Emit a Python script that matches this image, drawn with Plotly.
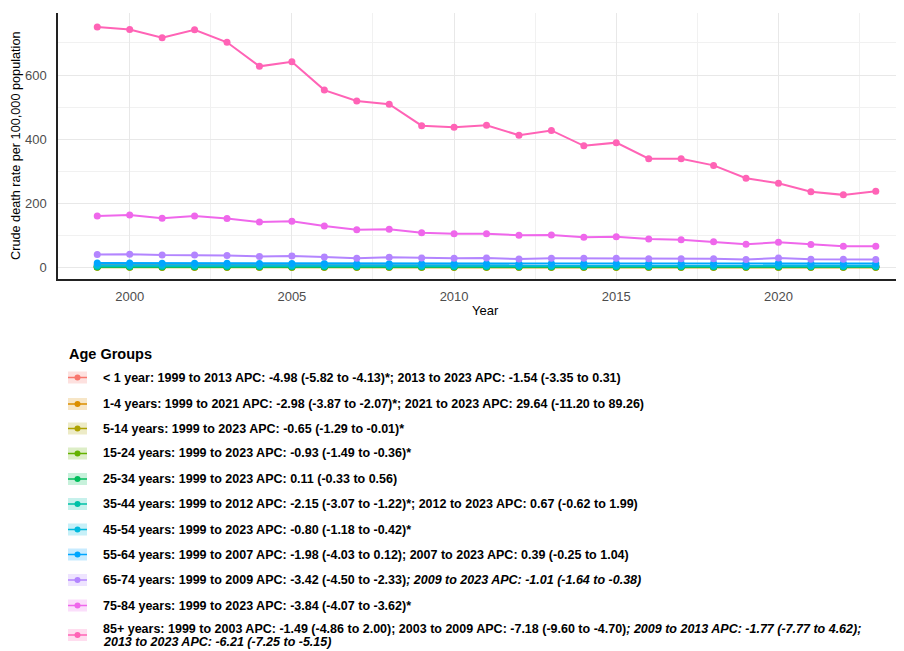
import plotly.graph_objects as go

years = list(range(1999, 2024))

age_groups = ["< 1 year", "1-4 years", "5-14 years", "15-24 years", "25-34 years",
              "35-44 years", "45-54 years", "55-64 years", "65-74 years",
              "75-84 years", "85+ years"]

colors = ["#F8766D", "#DB8E00", "#AEA200", "#64B200", "#00BD5C", "#00C1A7",
          "#00BADE", "#00A6FF", "#B385FF", "#EF67EB", "#FF63B6"]

rate_lt1 = [9.0, 8.5, 8.0, 7.6, 7.2, 6.9, 6.5, 6.2, 5.9, 5.6, 5.3, 5.1, 4.8, 4.6, 4.4,
            4.3, 4.3, 4.2, 4.1, 4.0, 4.0, 3.9, 3.8, 3.8, 3.7]
rate_1_4 = [0.6, 0.6, 0.5, 0.5, 0.5, 0.5, 0.5, 0.4, 0.4, 0.4, 0.4, 0.4, 0.4, 0.3, 0.3,
            0.3, 0.3, 0.3, 0.3, 0.3, 0.3, 0.3, 0.3, 0.4, 0.5]
rate_5_14 = [0.3, 0.3, 0.3, 0.3, 0.3, 0.3, 0.3, 0.3, 0.3, 0.3, 0.3, 0.3, 0.3, 0.3, 0.3,
             0.3, 0.3, 0.3, 0.3, 0.2, 0.2, 0.2, 0.2, 0.2, 0.3]
rate_15_24 = [0.9, 0.9, 0.9, 0.9, 0.8, 0.8, 0.8, 0.8, 0.8, 0.8, 0.8, 0.8, 0.8, 0.7, 0.7,
              0.7, 0.7, 0.7, 0.7, 0.7, 0.7, 0.7, 0.7, 0.7, 0.7]
rate_25_34 = [1.5, 1.5, 1.5, 1.5, 1.5, 1.5, 1.5, 1.5, 1.5, 1.5, 1.5, 1.5, 1.5, 1.5, 1.5,
              1.5, 1.5, 1.6, 1.6, 1.5, 1.6, 1.6, 1.6, 1.6, 1.5]
rate_35_44 = [3.6, 3.5, 3.4, 3.3, 3.2, 3.1, 3.0, 2.9, 2.8, 2.8, 2.7, 2.7, 2.6, 2.6, 2.6,
              2.6, 2.7, 2.7, 2.8, 2.8, 2.8, 2.9, 2.8, 2.8, 2.8]
rate_45_54 = [6.5, 6.4, 6.3, 6.3, 6.2, 6.1, 6.0, 6.0, 5.9, 5.8, 5.8, 5.7, 5.7, 5.6, 5.6,
              5.5, 5.5, 5.4, 5.4, 5.3, 5.3, 5.5, 5.2, 5.2, 5.1]
rate_55_64 = [13.5, 13.2, 12.8, 12.6, 12.3, 12.0, 11.8, 11.5, 11.2, 11.3, 11.2, 11.3, 11.4,
              11.3, 11.5, 11.6, 11.6, 11.7, 11.8, 11.8, 11.7, 13.5, 12.2, 11.9, 11.8]
rate_65_74 = [40, 41, 38, 38, 37, 34, 35, 32, 28, 31, 29, 28, 29, 26, 28, 28, 28, 27, 27,
              27, 24, 29, 25, 25, 24]
rate_75_84 = [160, 163, 153, 160, 152, 141, 144, 129, 117, 119, 108, 105, 105, 100, 101,
              94, 95, 88, 86, 80, 72, 78, 71, 66, 66]
rate_85p = [750, 742, 716, 741, 702, 627, 641, 553, 519, 509, 442, 437, 443, 412, 427,
            379, 389, 339, 339, 318, 278, 262, 236, 226, 237]

rates = [rate_lt1, rate_1_4, rate_5_14, rate_15_24, rate_25_34, rate_35_44,
         rate_45_54, rate_55_64, rate_65_74, rate_75_84, rate_85p]

legend_labels = [
    "&lt; 1 year: 1999 to 2013 APC: -4.98 (-5.82 to -4.13)*; 2013 to 2023 APC: -1.54 (-3.35 to 0.31)",
    "1-4 years: 1999 to 2021 APC: -2.98 (-3.87 to -2.07)*; 2021 to 2023 APC: 29.64 (-11.20 to 89.26)",
    "5-14 years: 1999 to 2023 APC: -0.65 (-1.29 to -0.01)*",
    "15-24 years: 1999 to 2023 APC: -0.93 (-1.49 to -0.36)*",
    "25-34 years: 1999 to 2023 APC: 0.11 (-0.33 to 0.56)",
    "35-44 years: 1999 to 2012 APC: -2.15 (-3.07 to -1.22)*; 2012 to 2023 APC: 0.67 (-0.62 to 1.99)",
    "45-54 years: 1999 to 2023 APC: -0.80 (-1.18 to -0.42)*",
    "55-64 years: 1999 to 2007 APC: -1.98 (-4.03 to 0.12); 2007 to 2023 APC: 0.39 (-0.25 to 1.04)",
    "65-74 years: 1999 to 2009 APC: -3.42 (-4.50 to -2.33)<i>; 2009 to 2023 APC: -1.01 (-1.64 to -0.38)</i>",
    "75-84 years: 1999 to 2023 APC: -3.84 (-4.07 to -3.62)*",
    "85+ years: 1999 to 2003 APC: -1.49 (-4.86 to 2.00); 2003 to 2009 APC: -7.18 (-9.60 to -4.70)<i>; 2009 to 2013 APC: -1.77 (-7.77 to 4.62);</i><br><i>2013 to 2023 APC: -6.21 (-7.25 to -5.15)</i>",
]

legend_title = "Age Groups"
x_title = "Year"
y_title = "Crude death rate per 100,000 population"

# layout geometry: coordinates given in reference-page pixels;
# the page body adds an 8px offset around the figure.
OFF = 8
W, H = 904 - OFF, 651 - OFF
PL, PT, PB = 58 - OFF, 13 - OFF, 279 - OFF

def py(p):
    return (PB - (p - OFF)) / (PB - PT)

def px(p):
    return ((p - OFF) - PL) / (W - PL)

def hex_rgba(h, a):
    h = h.lstrip("#")
    return "rgba(%d,%d,%d,%.2f)" % (int(h[0:2], 16), int(h[2:4], 16), int(h[4:6], 16), a)

fig = go.Figure()
for name, col, vals in zip(age_groups, colors, rates):
    fig.add_trace(go.Scatter(
        x=years, y=vals, name=name, mode="lines+markers",
        line=dict(color=col, width=2),
        marker=dict(color=col, size=7),
        showlegend=False,
    ))

shapes = []
annotations = []
font = "Liberation Sans, Arial, sans-serif"

annotations.append(dict(
    text="<b>" + legend_title + "</b>", xref="paper", yref="paper",
    x=px(67), y=py(354), xanchor="left", yanchor="middle", showarrow=False,
    font=dict(family=font, size=14.5, color="black"),
))

item_y = [377.5, 404, 428.5, 453.5, 479, 504, 529.5, 554.5, 580, 605.5, 635]
for col, lab, yc in zip(colors, legend_labels, item_y):
    x0, x1 = 68, 87
    shapes.append(dict(type="rect", xref="paper", yref="paper",
                       x0=px(x0), x1=px(x1), y0=py(yc + 6), y1=py(yc - 6),
                       fillcolor=hex_rgba(col, 0.22), line=dict(width=0), layer="above"))
    shapes.append(dict(type="line", xref="paper", yref="paper",
                       x0=px(x0), x1=px(x1), y0=py(yc), y1=py(yc),
                       line=dict(color=col, width=1.5), layer="above"))
    cx = (x0 + x1) / 2
    shapes.append(dict(type="circle", xref="paper", yref="paper",
                       x0=px(cx - 3), x1=px(cx + 3), y0=py(yc + 3), y1=py(yc - 3),
                       fillcolor=col, line=dict(width=0), layer="above"))
    parts = lab.split("<br>")
    n = len(parts)
    for k, part in enumerate(parts):
        ly = yc + (k - (n - 1) / 2) * 13
        annotations.append(dict(
            text="<b>" + part + "</b>", xref="paper", yref="paper",
            x=px(101), y=py(ly), xanchor="left", yanchor="middle", align="left",
            showarrow=False,
            font=dict(family=font, size=12.5, color="black"),
        ))

annotations.append(dict(
    text=x_title, xref="paper", yref="paper", x=px(486), y=py(310),
    xanchor="center", yanchor="middle", showarrow=False,
    font=dict(family=font, size=13, color="black"),
))
annotations.append(dict(
    text=y_title, xref="paper", yref="paper", x=px(16), y=py(146),
    xanchor="center", yanchor="middle", showarrow=False, textangle=-90,
    font=dict(family=font, size=12.7, color="black"),
))

fig.update_layout(
    width=W, height=H,
    margin=dict(l=PL, r=0, t=PT, b=H - PB, pad=0),
    plot_bgcolor="white", paper_bgcolor="white",
    font=dict(family=font, size=12, color="#4D4D4D"),
    shapes=shapes, annotations=annotations,
    showlegend=False,
)
fig.update_xaxes(
    range=[1997.79, 2023.87], tickvals=[2000, 2005, 2010, 2015, 2020],
    showgrid=True, gridcolor="#E8E8E8", gridwidth=1,
    minor=dict(tickvals=[1997.5, 2002.5, 2007.5, 2012.5, 2017.5, 2022.5],
               showgrid=True, gridcolor="#F1F1F1", gridwidth=1),
    showline=True, linecolor="#222222", linewidth=1.5,
    ticks="", ticklabelstandoff=5, zeroline=False,
    tickfont=dict(family=font, size=13, color="#4D4D4D"),
)
fig.update_yaxes(
    range=[-36.5, 793.5], tickvals=[0, 200, 400, 600],
    showgrid=True, gridcolor="#E8E8E8", gridwidth=1,
    minor=dict(tickvals=[100, 300, 500, 700], showgrid=True, gridcolor="#F1F1F1", gridwidth=1),
    showline=True, linecolor="#222222", linewidth=1.5,
    ticks="", ticklabelstandoff=7, zeroline=False,
    tickfont=dict(family=font, size=13, color="#4D4D4D"),
)

fig.write_html("out.html")
